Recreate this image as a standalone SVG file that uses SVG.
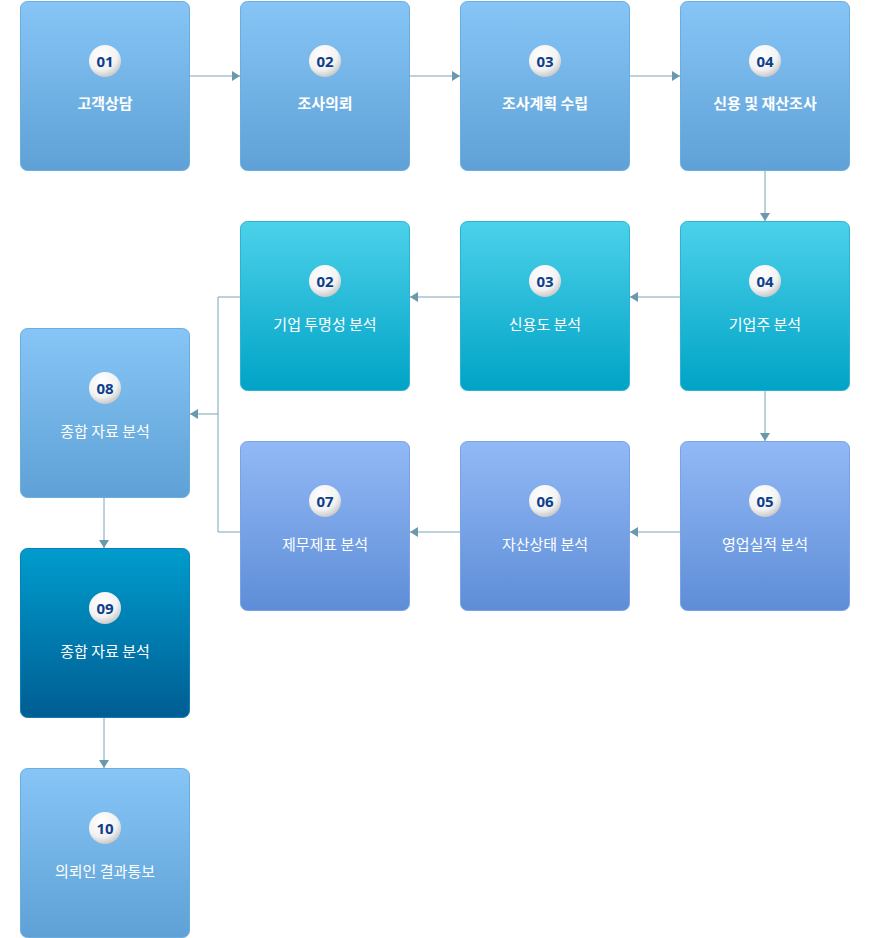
<svg xmlns="http://www.w3.org/2000/svg" width="870" height="938" viewBox="0 0 870 938">
<style>
.lb{font-family:"Noto Sans CJK KR","Noto Sans",sans-serif;font-size:15px;fill:#fff;text-anchor:middle}
.b{font-weight:bold}
.num{font-family:"Open Sans","Liberation Sans",sans-serif;font-size:15px;font-weight:bold;fill:#0d3f8c;text-anchor:middle}
.c{fill:none;stroke:#7aa5b8;stroke-width:1}
.box{stroke-width:1}
</style>
<defs>
<linearGradient id="gb" x1="0" y1="0" x2="0" y2="1"><stop offset="0" stop-color="#86c5f6"/><stop offset="1" stop-color="#5fa1d6"/></linearGradient>
<linearGradient id="gt" x1="0" y1="0" x2="0" y2="1"><stop offset="0" stop-color="#4cd1ea"/><stop offset="1" stop-color="#00a3c6"/></linearGradient>
<linearGradient id="gp" x1="0" y1="0" x2="0" y2="1"><stop offset="0" stop-color="#92b9f6"/><stop offset="1" stop-color="#5e8dd7"/></linearGradient>
<linearGradient id="gd" x1="0" y1="0" x2="0" y2="1"><stop offset="0" stop-color="#009ccd"/><stop offset="1" stop-color="#005d93"/></linearGradient>
<radialGradient id="ball" cx="0.4" cy="0.3" r="0.8"><stop offset="0" stop-color="#fff"/><stop offset="0.6" stop-color="#f2f2f2"/><stop offset="1" stop-color="#b8b8b8"/></radialGradient>
<marker id="ar" markerWidth="8" markerHeight="10" refX="8" refY="5" orient="auto" markerUnits="userSpaceOnUse"><path d="M0,0 L8,5 L0,10 Z" fill="#6a98ad"/></marker>
</defs>
<g id="connectors">
<path class="c" d="M190,76 H240" marker-end="url(#ar)"/>
<path class="c" d="M410,76 H460" marker-end="url(#ar)"/>
<path class="c" d="M630,76 H680" marker-end="url(#ar)"/>
<path class="c" d="M765,171 V221" marker-end="url(#ar)"/>
<path class="c" d="M680,297 H630" marker-end="url(#ar)"/>
<path class="c" d="M460,297 H410" marker-end="url(#ar)"/>
<path class="c" d="M765,391 V441" marker-end="url(#ar)"/>
<path class="c" d="M680,532 H630" marker-end="url(#ar)"/>
<path class="c" d="M460,532 H410" marker-end="url(#ar)"/>
<path class="c" d="M240,297 H218 V532 H240"/>
<path class="c" d="M218,414 H190" marker-end="url(#ar)"/>
<path class="c" d="M104,498 V548" marker-end="url(#ar)"/>
<path class="c" d="M104,718 V768" marker-end="url(#ar)"/>
</g>
<g id="n01"><rect class="box" x="20.5" y="1.5" width="169" height="169" rx="7" fill="url(#gb)" stroke="#6aaee0"/><circle cx="105" cy="61" r="16" fill="url(#ball)"/><text class="num" x="105" y="67">01</text><text class="lb b" x="105" y="109">고객상담</text></g>
<g id="n02"><rect class="box" x="240.5" y="1.5" width="169" height="169" rx="7" fill="url(#gb)" stroke="#6aaee0"/><circle cx="325" cy="61" r="16" fill="url(#ball)"/><text class="num" x="325" y="67">02</text><text class="lb b" x="325" y="109">조사의뢰</text></g>
<g id="n03"><rect class="box" x="460.5" y="1.5" width="169" height="169" rx="7" fill="url(#gb)" stroke="#6aaee0"/><circle cx="545" cy="61" r="16" fill="url(#ball)"/><text class="num" x="545" y="67">03</text><text class="lb b" x="545" y="109">조사계획 수립</text></g>
<g id="n04"><rect class="box" x="680.5" y="1.5" width="169" height="169" rx="7" fill="url(#gb)" stroke="#6aaee0"/><circle cx="765" cy="61" r="16" fill="url(#ball)"/><text class="num" x="765" y="67">04</text><text class="lb b" x="765" y="109">신용 및 재산조사</text></g>
<g id="t02"><rect class="box" x="240.5" y="221.5" width="169" height="169" rx="7" fill="url(#gt)" stroke="#2ab4cf"/><circle cx="325" cy="281" r="16" fill="url(#ball)"/><text class="num" x="325" y="287">02</text><text class="lb" x="325" y="330">기업 투명성 분석</text></g>
<g id="t03"><rect class="box" x="460.5" y="221.5" width="169" height="169" rx="7" fill="url(#gt)" stroke="#2ab4cf"/><circle cx="545" cy="281" r="16" fill="url(#ball)"/><text class="num" x="545" y="287">03</text><text class="lb" x="545" y="330">신용도 분석</text></g>
<g id="t04"><rect class="box" x="680.5" y="221.5" width="169" height="169" rx="7" fill="url(#gt)" stroke="#2ab4cf"/><circle cx="765" cy="281" r="16" fill="url(#ball)"/><text class="num" x="765" y="287">04</text><text class="lb" x="765" y="330">기업주 분석</text></g>
<g id="p07"><rect class="box" x="240.5" y="441.5" width="169" height="169" rx="7" fill="url(#gp)" stroke="#7aa3e6"/><circle cx="325" cy="501" r="16" fill="url(#ball)"/><text class="num" x="325" y="507">07</text><text class="lb" x="325" y="550">제무제표 분석</text></g>
<g id="p06"><rect class="box" x="460.5" y="441.5" width="169" height="169" rx="7" fill="url(#gp)" stroke="#7aa3e6"/><circle cx="545" cy="501" r="16" fill="url(#ball)"/><text class="num" x="545" y="507">06</text><text class="lb" x="545" y="550">자산상태 분석</text></g>
<g id="p05"><rect class="box" x="680.5" y="441.5" width="169" height="169" rx="7" fill="url(#gp)" stroke="#7aa3e6"/><circle cx="765" cy="501" r="16" fill="url(#ball)"/><text class="num" x="765" y="507">05</text><text class="lb" x="765" y="550">영업실적 분석</text></g>
<g id="n08"><rect class="box" x="20.5" y="328.5" width="169" height="169" rx="7" fill="url(#gb)" stroke="#6aaee0"/><circle cx="105" cy="388" r="16" fill="url(#ball)"/><text class="num" x="105" y="394">08</text><text class="lb" x="105" y="437">종합 자료 분석</text></g>
<g id="n09"><rect class="box" x="20.5" y="548.5" width="169" height="169" rx="7" fill="url(#gd)" stroke="#0a80b5"/><circle cx="105" cy="608" r="16" fill="url(#ball)"/><text class="num" x="105" y="614">09</text><text class="lb" x="105" y="657">종합 자료 분석</text></g>
<g id="n10"><rect class="box" x="20.5" y="768.5" width="169" height="169" rx="7" fill="url(#gb)" stroke="#6aaee0"/><circle cx="105" cy="828" r="16" fill="url(#ball)"/><text class="num" x="105" y="834">10</text><text class="lb" x="105" y="877">의뢰인 결과통보</text></g>
</svg>
